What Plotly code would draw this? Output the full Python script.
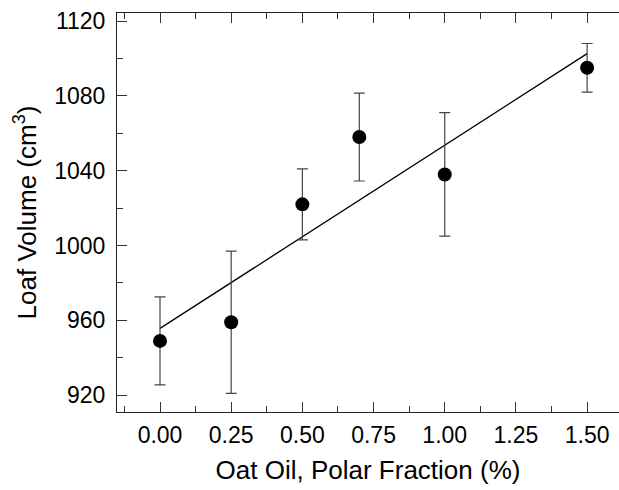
import numpy as np
import plotly.graph_objects as go

oil_fraction = [0.00, 0.25, 0.50, 0.70, 1.00, 1.50]
loaf_volume = [949, 959, 1022, 1058, 1038, 1095]
volume_err = [23.5, 38, 19, 23.5, 33, 13]

x_ticks = [0.00, 0.25, 0.50, 0.75, 1.00, 1.25, 1.50]
y_ticks = [920, 960, 1000, 1040, 1080, 1120]

slope, intercept = np.polyfit(oil_fraction, loaf_volume, 1)
fit_x = [min(oil_fraction), max(oil_fraction)]
fit_y = [intercept + slope * v for v in fit_x]

fig = go.Figure()
fig.add_trace(go.Scatter(
    x=fit_x, y=fit_y, mode="lines",
    line=dict(color="black", width=1.3), showlegend=False, hoverinfo="skip"))
fig.add_trace(go.Scatter(
    x=oil_fraction, y=loaf_volume, mode="markers",
    marker=dict(color="black", size=14),
    error_y=dict(type="data", array=volume_err, visible=True,
                 color="#444444", thickness=1.2, width=5.5),
    showlegend=False))

font_family = "Liberation Sans, Arial, sans-serif"
fig.update_layout(
    width=619, height=490,
    margin=dict(l=117, r=0, t=13, b=78),
    paper_bgcolor="white", plot_bgcolor="white",
    font=dict(family=font_family, color="black", size=23),
    xaxis=dict(
        range=[-0.151, 1.612], tickvals=x_ticks, tickformat=".2f",
        ticks="inside", ticklen=10, tickwidth=1, tickcolor="#333",
        showline=True, linecolor="#222", linewidth=1, mirror="ticks",
        showgrid=False, zeroline=False,
        minor=dict(dtick=0.125, tick0=0, ticks="inside", ticklen=6, tickcolor="#333"),
        tickfont=dict(size=23), ticklabelstandoff=2,
        title=dict(text="Oat Oil, Polar Fraction (%)", font=dict(size=26), standoff=14),
    ),
    yaxis=dict(
        range=[911, 1124.3], tickvals=y_ticks,
        ticks="inside", ticklen=10, tickwidth=1, tickcolor="#333",
        showline=True, linecolor="#222", linewidth=1, mirror=False,
        showgrid=False, zeroline=False,
        minor=dict(dtick=20, tick0=920, ticks="inside", ticklen=6, tickcolor="#333"),
        tickfont=dict(size=23), ticklabelstandoff=6,
        title=dict(text="Loaf Volume (cm<sup>3</sup>)", font=dict(size=26), standoff=10),
    ),
)

fig.write_html("out.html", config={"displayModeBar": False},
               post_script="document.body.style.margin='0';document.body.style.overflow='hidden';")
